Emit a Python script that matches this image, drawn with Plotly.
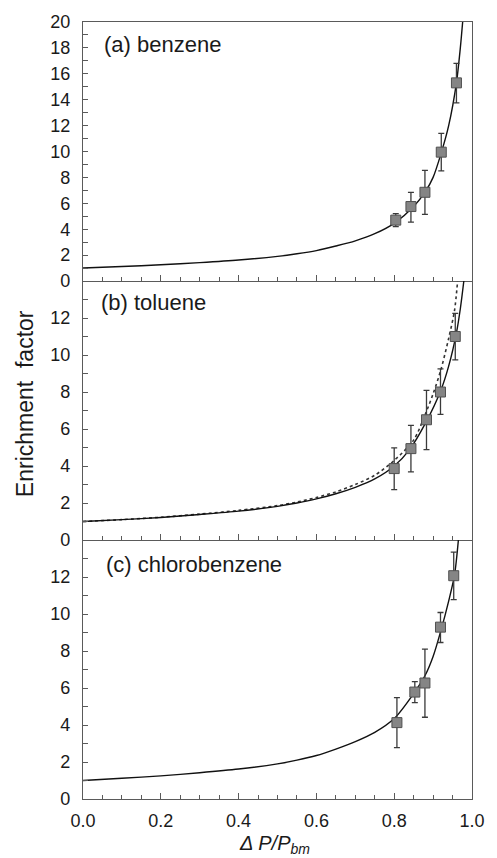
import plotly.graph_objects as go

# ---------------- data ----------------
# (a) benzene
a_x = [0.804, 0.843, 0.879, 0.921, 0.960]
a_y = [4.7, 5.75, 6.85, 9.95, 15.3]
a_eplus = [0.5, 1.1, 1.7, 1.45, 1.5]
a_eminus = [0.5, 1.2, 1.7, 1.45, 1.55]
a_cx = [0.0, 0.1, 0.2, 0.3, 0.4, 0.5, 0.55, 0.6, 0.65, 0.7, 0.75, 0.8, 0.85, 0.88, 0.9, 0.92, 0.94, 0.96, 0.97, 0.976]
a_cy = [1.0, 1.12, 1.25, 1.42, 1.62, 1.9, 2.1, 2.35, 2.7, 3.1, 3.65, 4.45, 5.75, 6.9, 8.0, 9.8, 12.0, 15.3, 18.0, 20.0]

# (b) toluene
b_x = [0.800, 0.843, 0.883, 0.919, 0.957]
b_y = [3.86, 4.94, 6.5, 8.0, 11.0]
b_eplus = [1.12, 1.26, 1.59, 1.25, 1.25]
b_eminus = [1.14, 1.26, 1.62, 1.21, 1.26]
b_cx = [0.0, 0.1, 0.2, 0.3, 0.4, 0.5, 0.55, 0.6, 0.65, 0.7, 0.75, 0.8, 0.84, 0.88, 0.92, 0.94, 0.96, 0.97, 0.979]
b_cy = [1.0, 1.1, 1.22, 1.38, 1.56, 1.82, 2.0, 2.22, 2.5, 2.85, 3.3, 4.0, 4.9, 6.3, 8.1, 9.4, 11.2, 12.5, 14.0]
b_dx = [0.0, 0.1, 0.2, 0.3, 0.4, 0.5, 0.55, 0.6, 0.65, 0.7, 0.75, 0.8, 0.85, 0.88, 0.9, 0.92, 0.94, 0.955, 0.963]
b_dy = [1.0, 1.1, 1.23, 1.4, 1.6, 1.86, 2.05, 2.3, 2.6, 3.0, 3.5, 4.3, 5.4, 6.8, 7.9, 9.2, 10.9, 12.4, 14.0]

# (c) chlorobenzene
c_x = [0.807, 0.853, 0.879, 0.919, 0.953]
c_y = [4.13, 5.78, 6.27, 9.29, 12.07]
c_eplus = [1.35, 0.56, 1.83, 0.79, 1.28]
c_eminus = [1.35, 0.57, 1.85, 0.83, 1.29]
c_cx = [0.0, 0.1, 0.2, 0.3, 0.4, 0.5, 0.55, 0.6, 0.65, 0.7, 0.75, 0.8, 0.85, 0.88, 0.9, 0.92, 0.94, 0.955, 0.965]
c_cy = [1.0, 1.12, 1.25, 1.42, 1.62, 1.9, 2.1, 2.35, 2.7, 3.1, 3.6, 4.35, 5.7, 6.7, 7.7, 9.1, 10.7, 12.1, 14.0]

x_ticks = [0.0, 0.2, 0.4, 0.6, 0.8, 1.0]
x_ticktext = ["0.0", "0.2", "0.4", "0.6", "0.8", "1.0"]
a_yticks = [0, 2, 4, 6, 8, 10, 12, 14, 16, 18, 20]
bc_yticks = [0, 2, 4, 6, 8, 10, 12]
labels = ["(a) benzene", "(b) toluene", "(c) chlorobenzene"]

# ---------------- styling ----------------
FONT = "Liberation Sans, Arial, sans-serif"
AXC = "#5a5a5a"
MARK = dict(symbol="square", size=10, color="#858585", line=dict(color="#505050", width=1))
ERRC = "#3a3a3a"

fig = go.Figure()

def add_panel(xs, ys, ep, em, cx, cy, xa, ya):
    fig.add_trace(go.Scatter(x=cx, y=cy, mode="lines", line=dict(color="#111", width=1.4, shape="spline", smoothing=0.8),
                             xaxis=xa, yaxis=ya, showlegend=False, hoverinfo="skip"))
    fig.add_trace(go.Scatter(x=xs, y=ys, mode="markers", marker=MARK,
                             error_y=dict(type="data", symmetric=False, array=ep, arrayminus=em,
                                          color=ERRC, thickness=1.3, width=3),
                             xaxis=xa, yaxis=ya, showlegend=False))

add_panel(a_x, a_y, a_eplus, a_eminus, a_cx, a_cy, "x", "y")
fig.add_trace(go.Scatter(x=b_dx, y=b_dy, mode="lines", line=dict(color="#333", width=1.6, dash="dot", shape="spline", smoothing=0.8),
                         xaxis="x2", yaxis="y2", showlegend=False, hoverinfo="skip"))
add_panel(b_x, b_y, b_eplus, b_eminus, b_cx, b_cy, "x2", "y2")
add_panel(c_x, c_y, c_eplus, c_eminus, c_cx, c_cy, "x3", "y3")

tickfont = dict(family=FONT, size=18, color="#1a1a1a")

def xaxis(domain_anchor, show, mirror):
    return dict(domain=[0, 1], anchor=domain_anchor, range=[0, 1], tickvals=x_ticks, ticktext=x_ticktext,
                showticklabels=show, ticks="inside", ticklen=6, tickwidth=1.2, tickcolor=AXC,
                minor=dict(dtick=0.05, tick0=0, ticks="inside", ticklen=4, tickwidth=1.2, tickcolor=AXC),
                showline=True, linecolor=AXC, linewidth=1.2, mirror=mirror, showgrid=False, zeroline=False,
                tickfont=tickfont, ticklabelstandoff=5, fixedrange=True)

def yaxis(domain, anchor, rng, tvals):
    return dict(domain=domain, anchor=anchor, range=rng, tickvals=tvals,
                ticks="inside", ticklen=5, tickwidth=1.2, tickcolor=AXC,
                minor=dict(dtick=1, tick0=0, ticks="inside", ticklen=5, tickwidth=1.2, tickcolor=AXC),
                showline=True, linecolor=AXC, linewidth=1.2, mirror=True, showgrid=False, zeroline=False,
                tickfont=tickfont, ticklabelstandoff=8, fixedrange=True)

fig.update_layout(
    width=497, height=858,
    margin=dict(l=83, r=14, t=18, b=59),
    paper_bgcolor="white", plot_bgcolor="white",
    font=dict(family=FONT, color="#1a1a1a"),
    xaxis=xaxis("y", False, True), yaxis=yaxis([2/3, 1], "x", [0, 20], a_yticks),
    xaxis2=xaxis("y2", False, False), yaxis2=yaxis([1/3, 2/3], "x2", [0, 14], bc_yticks),
    xaxis3=xaxis("y3", True, False), yaxis3=yaxis([0, 1/3], "x3", [0, 14], bc_yticks),
)

label_pos = [("x", "y", 0.05, 0.914), ("x2", "y2", 0.042, 0.917), ("x3", "y3", 0.053, 0.904)]
for (xr, yr, lx, ly), txt in zip(label_pos, labels):
    fig.add_annotation(text=txt, xref=f"{xr} domain", yref=f"{yr} domain", x=lx, y=ly,
                       xanchor="left", yanchor="middle", showarrow=False,
                       font=dict(family=FONT, size=22, color="#1a1a1a"))

fig.add_annotation(text="Enrichment  factor", xref="paper", yref="paper", x=-0.15, y=0.509,
                   textangle=-90, xanchor="center", yanchor="middle", showarrow=False,
                   font=dict(family=FONT, size=23, color="#1a1a1a"))
fig.add_annotation(text="<i>Δ P/P<sub>bm</sub></i>", xref="paper", yref="paper", x=0.4925, y=-0.058,
                   xanchor="center", yanchor="middle", showarrow=False,
                   font=dict(family=FONT, size=20, color="#1a1a1a"))

fig.write_html("out.html")
